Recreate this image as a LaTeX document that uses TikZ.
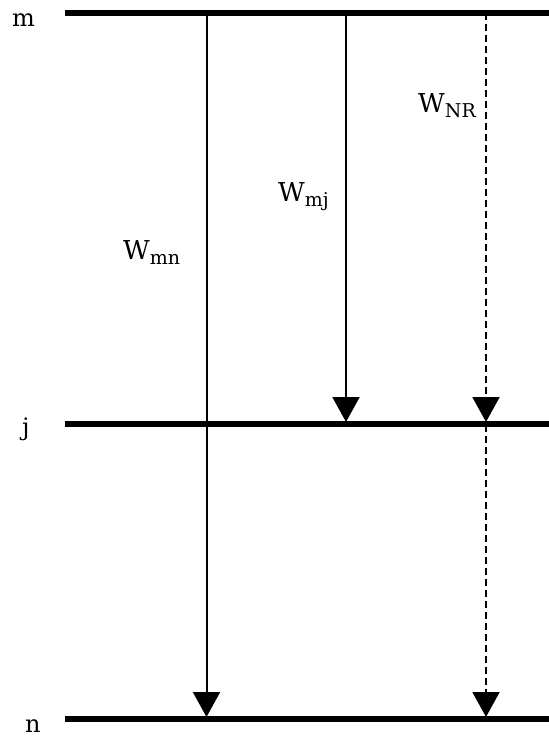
\documentclass[tikz,border=0pt]{standalone}
\usepackage{fontspec}
\setmainfont{DejaVu Serif}
\usetikzlibrary{arrows.meta}

\newcommand{\Wlab}[1]{W\raisebox{-0.2em}{\fontsize{19}{22}\selectfont #1}}

\begin{document}
\begin{tikzpicture}[x=1pt, y=-1pt,
  level/.style={line width=6pt},
  trans/.style={line width=2pt, -{Triangle[length=25pt, width=27pt]}},
  nonrad/.style={trans, dash pattern=on 7pt off 4pt},
  lab/.style={anchor=base west, inner sep=0pt, font=\fontsize{24}{28}\selectfont},
  rate/.style={lab, font=\fontsize{26}{30}\selectfont}
]
  \useasboundingbox (0,0) rectangle (549,737);

  % energy levels
  \coordinate (mL) at (65,12.5);  \coordinate (mR) at (549,12.5);
  \coordinate (jL) at (65,423.5); \coordinate (jR) at (549,423.5);
  \coordinate (nL) at (65,718.5); \coordinate (nR) at (549,718.5);
  \draw [level] (mL) -- (mR);
  \draw [level] (jL) -- (jR);
  \draw [level] (nL) -- (nR);

  \node (mlab) [lab] at (12,26) {m};
  \node (jlab) [lab] at (22,435) {j};
  \node (nlab) [lab] at (25,732) {n};

  % arrow end points
  \coordinate (mn1) at (206.5,12.5); \coordinate (mn2) at (206.5,717);
  \coordinate (mj1) at (346,12.5);   \coordinate (mj2) at (346,422);
  \coordinate (nr1) at (486,12.5);   \coordinate (nr2) at (486,422);
  \coordinate (nr3) at (486,425);    \coordinate (nr4) at (486,717);

  \draw [trans] (mn1) -- (mn2);
  \draw [trans] (mj1) -- (mj2);
  \draw [nonrad] (nr1) -- (nr2);
  \draw [nonrad] (nr3) -- (nr4);

  \node (wmn) [rate] at (123,259) {\Wlab{mn}};
  \node (wmj) [rate] at (278,201) {\Wlab{mj}};
  \node (wnr) [rate] at (418,112) {\Wlab{NR}};
\end{tikzpicture}
\end{document}
